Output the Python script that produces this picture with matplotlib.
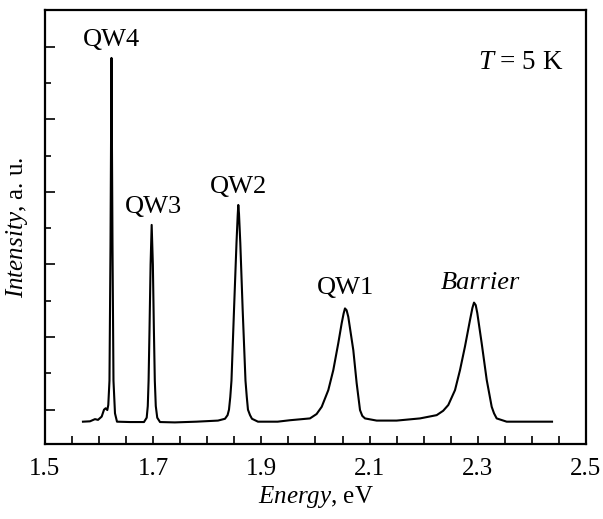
import matplotlib
matplotlib.use('Agg')
import matplotlib.pyplot as plt
from matplotlib.ticker import MultipleLocator, NullFormatter, FormatStrFormatter

# PL spectrum (energy in eV, intensity in arbitrary units)
energy = [1.5702, 1.5832, 1.5924, 1.5980, 1.6048, 1.6091, 1.6122, 1.6152, 1.6170,
          1.6192, 1.6211, 1.6229, 1.6248, 1.6266, 1.6294, 1.6331, 1.6570,
          1.6830, 1.6880, 1.6900, 1.6915, 1.6932, 1.6952, 1.6972, 1.6994, 1.7013,
          1.7030, 1.7048, 1.7075, 1.7126, 1.7400, 1.7800,
          1.8198, 1.8327, 1.8375, 1.8401, 1.8425, 1.8447, 1.8494, 1.8540, 1.8562,
          1.8573, 1.8586, 1.8610, 1.8654, 1.8706, 1.8730, 1.8752, 1.8790, 1.8826,
          1.8937, 1.9300,
          1.9529, 1.9898, 2.0020, 2.0115, 2.0237, 2.0329, 2.0421, 2.0484, 2.0520,
          2.0545, 2.0575, 2.0606, 2.0699, 2.0761, 2.0823, 2.0865, 2.0915, 2.1131,
          2.1500,
          2.1932, 2.2240, 2.2360, 2.2455, 2.2579, 2.2671, 2.2763, 2.2856, 2.2900,
          2.2930, 2.2962, 2.2991, 2.3072, 2.3165, 2.3257, 2.3300, 2.3349, 2.3534,
          2.4000, 2.4372]
intensity = [-0.33, -0.32, -0.26, -0.28, -0.19, 0.00, 0.04, -0.01, 0.13,
             0.80, 4.50, 9.69, 4.50, 0.80, -0.10, -0.33, -0.34,
             -0.34, -0.22, 0.10, 0.80, 2.20, 4.00, 5.09, 4.00, 2.20,
             0.80, 0.10, -0.22, -0.34, -0.35, -0.33,
             -0.30, -0.25, -0.15, 0.00, 0.35, 0.80, 2.75, 4.60, 5.35,
             5.64, 5.40, 4.60, 2.75, 0.80, 0.35, 0.00, -0.15, -0.25,
             -0.33, -0.33,
             -0.29, -0.24, -0.12, 0.08, 0.54, 1.09, 1.83, 2.38, 2.65,
             2.79, 2.74, 2.56, 1.64, 0.73, -0.01, -0.17, -0.24, -0.30,
             -0.30,
             -0.24, -0.15, -0.03, 0.13, 0.54, 1.09, 1.74, 2.47, 2.80,
             2.95, 2.88, 2.66, 1.83, 0.82, 0.08, -0.10, -0.24, -0.33,
             -0.33, -0.33]

peak_labels = ['QW4', 'QW3', 'QW2', 'QW1', 'Barrier']
label_x = [1.622, 1.6996, 1.8586, 2.056, 2.304]
label_y = [10.18, 5.58, 6.13, 3.35, 3.49]
xtick_values = [1.5, 1.7, 1.9, 2.1, 2.3, 2.5]

plt.rcParams['font.family'] = 'Liberation Serif'
plt.rcParams['mathtext.fontset'] = 'custom'
plt.rcParams['mathtext.rm'] = 'Liberation Serif'
plt.rcParams['mathtext.it'] = 'Liberation Serif:italic'

fig = plt.figure(figsize=(6.03, 5.19), dpi=100)
ax = fig.add_axes([0.0746, 0.1445, 0.8972, 0.8362])

ax.plot(energy, intensity, color='black', lw=1.5)

for name, x, y in zip(peak_labels, label_x, label_y):
    style = 'italic' if name == 'Barrier' else 'normal'
    ax.text(x, y, name, ha='center', va='center', fontsize=19, style=style)
ax.text(2.38, 9.57, r'$\mathit{T}$ = 5 K', ha='center', va='center', fontsize=19.5)

ax.set_xlim(1.5, 2.5)
ax.set_ylim(-0.945, 11.01)
ax.set_xticks(xtick_values)
ax.xaxis.set_major_formatter(FormatStrFormatter('%.1f'))
ax.xaxis.set_minor_locator(MultipleLocator(0.05))
ax.yaxis.set_major_locator(MultipleLocator(2))
ax.yaxis.set_minor_locator(MultipleLocator(1))
ax.yaxis.set_major_formatter(NullFormatter())
ax.tick_params(axis='x', which='both', direction='in', length=5.5, width=1.2,
               labelsize=18, pad=10)
ax.tick_params(axis='y', which='major', direction='in', length=7, width=1.2)
ax.tick_params(axis='y', which='minor', direction='in', length=4.3, width=1.2)
for s in ax.spines.values():
    s.set_linewidth(1.6)

ax.set_xlabel(r'$\mathit{Energy}$, eV', fontsize=18, labelpad=3)
ax.set_ylabel(r'$\mathit{Intensity}$, a. u.', fontsize=18, labelpad=7)

fig.savefig('out.png', dpi=100)
